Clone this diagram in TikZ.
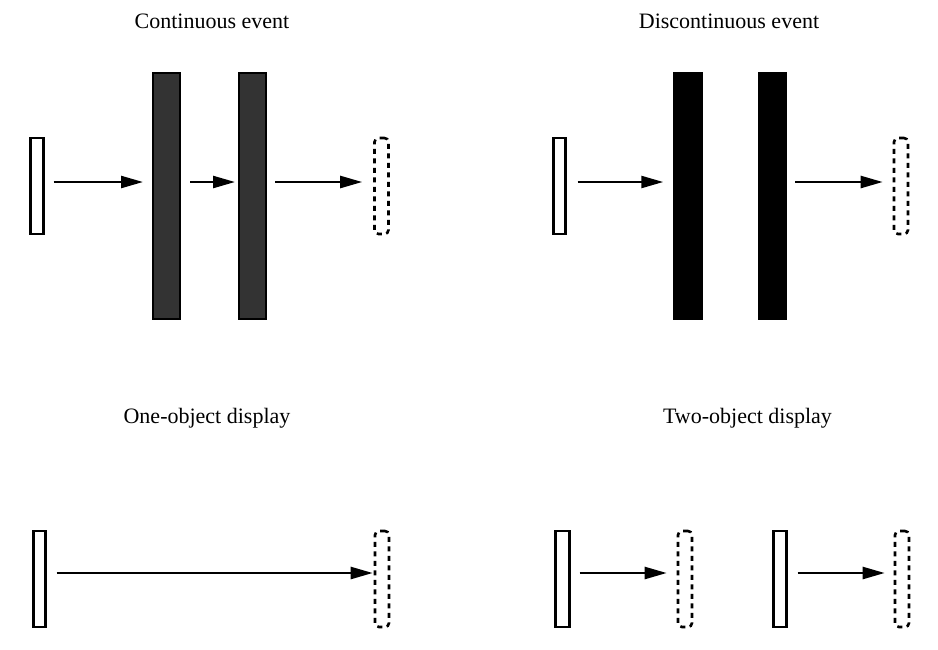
\documentclass[tikz,border=0pt]{standalone}
\usepackage{fontspec}
\setmainfont{Liberation Serif}
\usetikzlibrary{arrows.meta,calc}
\begin{document}
\begin{tikzpicture}[x=1pt,y=-1pt,
  objbox/.style={draw=black,line width=2.4pt,fill=white,inner sep=0pt,minimum width=#1,minimum height=96pt},
  objbox/.default=14pt,
  ghost/.style={draw=black,line width=2.6pt,dash pattern=on 5pt off 4.5pt,rounded corners=4pt,inner sep=0pt,minimum width=14pt,minimum height=96pt},
  bargray/.style={draw=black,line width=2pt,fill=black!80,inner sep=0pt,minimum width=27pt,minimum height=246pt},
  barblack/.style={draw=black,line width=2pt,fill=black,inner sep=0pt,minimum width=27.5pt,minimum height=246pt},
  arr/.style={line width=2.4pt,-{Triangle[length=22pt,width=12pt]}},
  ttl/.style={font=\fontsize{22}{26}\selectfont,anchor=base,inner sep=0pt}]
\useasboundingbox (0,0) rectangle (938,649);
% titles
\node[ttl] (t1) at (212,28) {Continuous event};
\node[ttl] (t2) at (729,28) {Discontinuous event};
\node[ttl] (t3) at (207,423) {One-object display};
\node[ttl] (t4) at (747.5,423) {Two-object display};
% arrow heights
\coordinate (ya) at (0,182);
\coordinate (yb) at (0,573);
% top left
\node[objbox=13pt] (o1) at (37,186) {};
\node[bargray] (b1) at (166.5,196) {};
\node[bargray] (b2) at (252.5,196) {};
\node[ghost] (d1) at (381.5,186) {};
\draw[arr] ($(o1.east |- ya)+(9,0)$) -- ($(b1.west |- ya)+(-9,0)$);
\draw[arr] ($(b1.east |- ya)+(9,0)$) -- ($(b2.west |- ya)+(-3,0)$);
\draw[arr] ($(b2.east |- ya)+(8,0)$) -- ($(d1.west |- ya)+(-11,0)$);
% top right
\node[objbox=12pt] (o2) at (559.5,186) {};
\node[barblack] (b3) at (688,196) {};
\node[barblack] (b4) at (772.5,196) {};
\node[ghost] (d2) at (901,186) {};
\draw[arr] ($(o2.east |- ya)+(11,0)$) -- ($(b3.west |- ya)+(-10,0)$);
\draw[arr] ($(b4.east |- ya)+(8,0)$) -- ($(d2.west |- ya)+(-10,0)$);
% bottom left
\node[objbox=12pt] (o3) at (39.5,579) {};
\node[ghost] (d3) at (382,579) {};
\draw[arr] ($(o3.east |- yb)+(10,0)$) -- ($(d3.west |- yb)+(-1,0)$);
% bottom right
\node[objbox=14pt] (o4) at (562.5,579) {};
\node[ghost] (d4) at (685,579) {};
\node[objbox=13pt] (o5) at (780,579) {};
\node[ghost] (d5) at (902,579) {};
\draw[arr] ($(o4.east |- yb)+(9,0)$) -- ($(d4.west |- yb)+(-10,0)$);
\draw[arr] ($(o5.east |- yb)+(10,0)$) -- ($(d5.west |- yb)+(-9,0)$);
\end{tikzpicture}
\end{document}
